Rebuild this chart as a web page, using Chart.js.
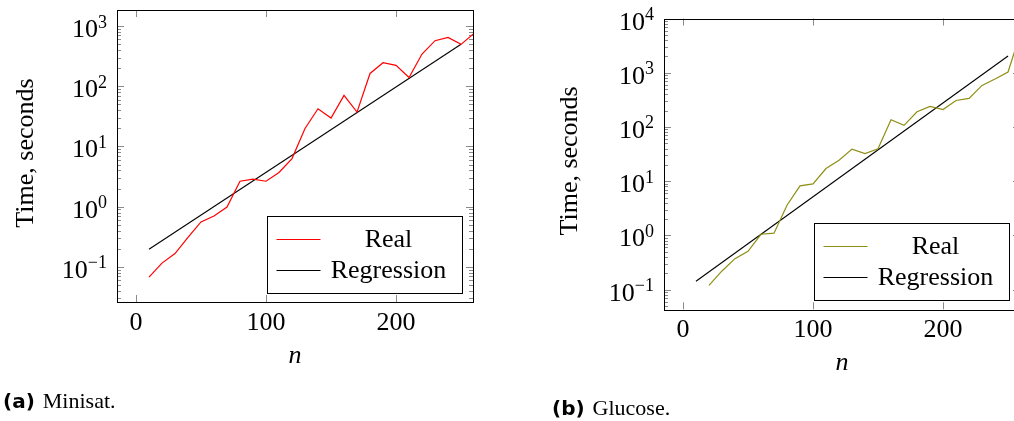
<!DOCTYPE html>
<html>
<head>
<meta charset="utf-8">
<script src="https://cdn.jsdelivr.net/npm/chart.js@4"></script>
<style>
  html, body { margin: 0; padding: 0; background: #fff; }
  body { width: 1014px; height: 421px; overflow: hidden; position: relative; }
  canvas { position: absolute; top: 0; }
  #minisat { left: 0; }
  #glucose { left: 540px; }
  .cap { position: absolute; font: 22px "Liberation Serif", serif; color: #000; white-space: nowrap; }
  .cap b { font: bold 20px "DejaVu Sans", sans-serif; margin-right: 8px; }
</style>
</head>
<body>
<canvas id="minisat" width="500" height="421"></canvas>
<canvas id="glucose" width="500" height="421"></canvas>
<div class="cap" style="left:3px; top:388px;"><b>(a)</b>Minisat.</div>
<div class="cap" style="left:552px; top:395px;"><b>(b)</b>Glucose.</div>
<script>
// n values, time in seconds (log axis)
const minisatN = [10, 20, 30, 40, 50, 60, 70, 80, 90, 100, 110, 120, 130, 140, 150, 160, 170, 180, 190, 200, 210, 220, 230, 240, 250, 260];
const minisatReal = [0.068, 0.116, 0.167, 0.31, 0.56, 0.70, 0.99, 2.65, 2.87, 2.65, 3.7, 6.3, 19.9, 42.3, 29.6, 70.4, 37.2, 163, 246, 222, 140, 343, 571, 648, 496, 755];
const minisatRegN = [10, 250];
const minisatReg = [0.197, 497];

const glucoseN = [20, 30, 40, 50, 60, 70, 80, 90, 100, 110, 120, 130, 140, 150, 160, 170, 180, 190, 200, 210, 220, 230, 240, 250, 260];
const glucoseReal = [0.120, 0.221, 0.373, 0.51, 1.05, 1.10, 3.6, 8.2, 8.9, 17.1, 24.4, 39, 32.4, 39.5, 136, 107, 191, 239, 210, 308, 336, 583, 764, 1030, 5800];
const glucoseRegN = [10, 250];
const glucoseReg = [0.143, 2030];

const xTicks = [0, 100, 200];
const minisatDecades = [-1, 0, 1, 2, 3];
const glucoseDecades = [-1, 0, 1, 2, 3, 4];
const legendLabels = ['Real', 'Regression'];

const SERIF = '"Liberation Serif", serif';

const toPoints = (xs, ys) => xs.map((v, i) => ({ x: v, y: ys[i] }));

// pgfplots-looking frame, ticks, labels and legend
const pgfAxes = {
  id: 'pgfAxes',
  beforeDatasetsDraw(chart, args, opts) {
    const { ctx, chartArea: a, scales: { x, y } } = chart;
    ctx.save();
    ctx.strokeStyle = '#8a8a8a';
    ctx.lineWidth = 1;
    const seg = (x1, y1, x2, y2) => { ctx.beginPath(); ctx.moveTo(x1, y1); ctx.lineTo(x2, y2); ctx.stroke(); };
    xTicks.forEach(v => {
      const px = Math.round(x.getPixelForValue(v)) + 0.5;
      seg(px, a.bottom, px, a.bottom - 7);
      seg(px, a.top, px, a.top + 7);
    });
    const k0 = Math.floor(Math.log10(y.min)), k1 = Math.floor(Math.log10(y.max));
    for (let k = k0; k <= k1; k++) {
      for (let m = 1; m <= 9; m++) {
        const v = m * Math.pow(10, k);
        if (v < y.min || v > y.max) continue;
        const py = Math.round(y.getPixelForValue(v)) + 0.5;
        const len = m === 1 ? 7 : 4;
        seg(a.left, py, a.left + len, py);
        seg(a.right, py, a.right - len, py);
      }
    }
    ctx.restore();
  },
  afterDatasetsDraw(chart, args, opts) {
    const { ctx, chartArea: a, scales: { x, y } } = chart;
    ctx.save();
    // frame
    ctx.strokeStyle = '#000';
    ctx.lineWidth = 1;
    ctx.strokeRect(Math.round(a.left) + 0.5, Math.round(a.top) + 0.5, Math.round(a.right - a.left), Math.round(a.bottom - a.top));

    ctx.fillStyle = '#000';
    // y tick labels 10^k
    opts.decades.forEach(k => {
      const py = y.getPixelForValue(Math.pow(10, k));
      const sup = String(k).replace('-', '\u2212');
      ctx.font = '18px ' + SERIF;
      const supW = ctx.measureText(sup).width;
      ctx.font = '26px ' + SERIF;
      const mainW = ctx.measureText('10').width;
      const right = a.left - 10;
      ctx.textAlign = 'left';
      ctx.textBaseline = 'alphabetic';
      ctx.fillText('10', right - supW - mainW, py + 11);
      ctx.font = '18px ' + SERIF;
      ctx.fillText(sup, right - supW, py + 1.5);
    });
    // x tick labels
    ctx.font = '26px ' + SERIF;
    ctx.textAlign = 'center';
    xTicks.forEach(v => ctx.fillText(String(v), x.getPixelForValue(v), a.bottom + 28));
    // axis titles
    ctx.font = 'italic 26px ' + SERIF;
    ctx.fillText('n', (a.left + a.right) / 2, a.bottom + 61);
    ctx.font = '26px ' + SERIF;
    ctx.save();
    ctx.translate(a.left - opts.titleGap, (a.top + a.bottom) / 2 - 3);
    ctx.rotate(-Math.PI / 2);
    ctx.fillText('Time, seconds', 0, 0);
    ctx.restore();

    // legend, south east
    const w = 195, h = 77;
    const lx = Math.round(a.right - 11 - w) + 0.5, ly = Math.round(a.bottom - 9 - h) + 0.5;
    ctx.fillStyle = '#fff';
    ctx.fillRect(lx, ly, w, h);
    ctx.strokeStyle = '#000';
    ctx.lineWidth = 1;
    ctx.strokeRect(lx, ly, w, h);
    chart.data.datasets.forEach((ds, i) => {
      const ry = ly + 23 + i * 31;
      ctx.strokeStyle = ds.borderColor;
      ctx.lineWidth = ds.borderWidth;
      ctx.beginPath();
      ctx.moveTo(lx + 9, ry);
      ctx.lineTo(lx + 53, ry);
      ctx.stroke();
      ctx.fillStyle = '#000';
      ctx.font = '26px ' + SERIF;
      ctx.textAlign = 'center';
      ctx.textBaseline = 'middle';
      ctx.fillText(ds.label, lx + 121, ry + 1);
    });
    ctx.restore();
  }
};

function makeChart(id, realN, real, regN, reg, color, yMin, yMax, pad, decades, titleGap) {
  return new Chart(document.getElementById(id), {
    type: 'line',
    data: {
      datasets: [
        { label: legendLabels[0], data: toPoints(realN, real), borderColor: color, borderWidth: 1.2, pointRadius: 0, tension: 0 },
        { label: legendLabels[1], data: toPoints(regN, reg), borderColor: '#000', borderWidth: 1.1, pointRadius: 0, tension: 0 }
      ]
    },
    options: {
      responsive: false,
      animation: false,
      devicePixelRatio: 1,
      layout: { padding: pad },
      plugins: {
        legend: { display: false },
        tooltip: { enabled: false },
        pgfAxes: { decades: decades, titleGap: titleGap }
      },
      scales: {
        x: { type: 'linear', min: -14.6, max: 259.2, display: false },
        y: { type: 'logarithmic', min: yMin, max: yMax, display: false }
      }
    },
    plugins: [pgfAxes]
  });
}

makeChart('minisat', minisatN, minisatReal, minisatRegN, minisatReg, '#ff0000',
  0.0262, 1845, { left: 117, right: 27, top: 10, bottom: 119 }, minisatDecades, 84);
makeChart('glucose', glucoseN, glucoseReal, glucoseRegN, glucoseReg, '#8e8e14',
  0.0434, 10000, { left: 124, right: 20, top: 18.5, bottom: 111.7 }, glucoseDecades, 87);
</script>
</body>
</html>
